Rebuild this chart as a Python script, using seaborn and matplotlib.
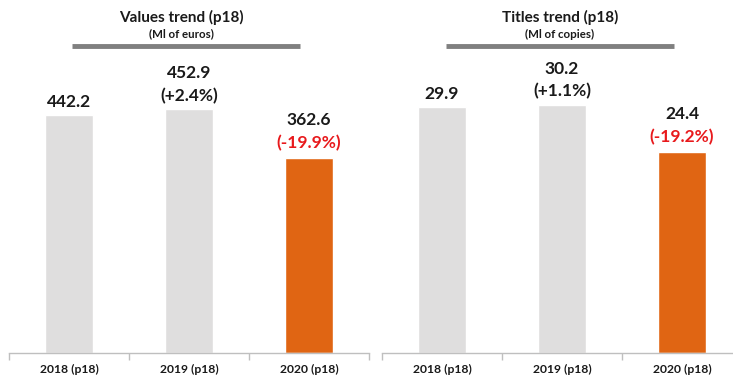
import matplotlib
matplotlib.use("Agg")
import matplotlib.pyplot as plt
import seaborn as sns
import pandas as pd
from matplotlib.lines import Line2D

years = ["2018 (p18)", "2019 (p18)", "2020 (p18)"]
values_eur = [442.2, 452.9, 362.6]
values_pct = [None, "(+2.4%)", "(-19.9%)"]
titles_copies = [29.9, 30.2, 24.4]
titles_pct = [None, "(+1.1%)", "(-19.2%)"]

panel_titles = ["Values trend (p18)", "Titles trend (p18)"]
panel_subtitles = ["(Ml of euros)", "(Ml of copies)"]

sns.set_theme(style="white")
plt.rcParams['font.family'] = ['Lato', 'DejaVu Sans']

W, H = 733, 376
fig = plt.figure(figsize=(W / 100, H / 100), dpi=100)

GRAY = "#dfdede"
ORANGE = "#e06513"
RED = "#e8191c"
palette = [GRAY, GRAY, ORANGE]

def px_axes(x0, x1, ytop, ybot):
    return fig.add_axes([x0 / W, 1 - ybot / H, (x1 - x0) / W, (ybot - ytop) / H])

panels = [
    (values_eur, values_pct, 9, 369, 442.2 / 238 * 293),
    (titles_copies, titles_pct, 382, 742, 29.9 / 246 * 293),
]
title_cx = [181, 560]
line_x = [(72, 300), (446, 674)]

for i, (vals, pcts, x0, x1, ymax) in enumerate(panels):
    ax = px_axes(x0, x1, 60, 353)
    df = pd.DataFrame({"year": years, "v": vals})
    sns.barplot(data=df, x="year", y="v", hue="year", palette=palette,
                legend=False, width=0.4, ax=ax, saturation=1)
    ax.set_xlim(-0.5, 2.5)
    ax.set_ylim(0, ymax)
    ax.set_xlabel("")
    ax.set_ylabel("")
    ax.set_yticks([])
    for s in ["top", "right", "left"]:
        ax.spines[s].set_visible(False)
    ax.spines["bottom"].set_color("#bfbfbf")
    ax.spines["bottom"].set_linewidth(1)
    ax.set_xticks([-0.5, 0.5, 1.5, 2.5], minor=True)
    ax.tick_params(axis="x", which="minor", length=5, color="#bfbfbf", direction="out", bottom=True)
    ax.tick_params(axis="x", which="major", length=0, pad=8)
    for lab in ax.get_xticklabels():
        lab.set_fontweight("bold")
        lab.set_fontsize(8.7)
        lab.set_color("#1a1a1a")
    for j, v in enumerate(vals):
        fmt = f"{v:.1f}"
        if pcts[j] is None:
            ax.annotate(fmt, (j, v), xytext=(0, 13 * 0.72), textcoords="offset points",
                        ha="center", va="center", fontsize=12.5, fontweight="bold", color="#1a1a1a")
        else:
            col = RED if pcts[j].startswith("(-") else "#1a1a1a"
            off = 15 if col == RED else 13
            ax.annotate(pcts[j], (j, v), xytext=(0, off * 0.72), textcoords="offset points",
                        ha="center", va="center", fontsize=12.5, fontweight="bold", color=col)
            ax.annotate(fmt, (j, v), xytext=(0, (off + 23) * 0.72), textcoords="offset points",
                        ha="center", va="center", fontsize=12.5, fontweight="bold", color="#1a1a1a")

    fig.text(title_cx[i] / W, 1 - 17 / H, panel_titles[i], ha="center", va="center",
             fontsize=11, fontweight="bold", color="#1a1a1a")
    fig.text(title_cx[i] / W, 1 - 34 / H, panel_subtitles[i], ha="center", va="center",
             fontsize=8.3, fontweight="bold", color="#1a1a1a")
    lx0, lx1 = line_x[i]
    fig.add_artist(Line2D([lx0 / W, lx1 / W], [1 - 45.5 / H, 1 - 45.5 / H],
                          transform=fig.transFigure, color="#808080", linewidth=3.5,
                          solid_capstyle="butt"))

fig.savefig("out.png", dpi=100)
